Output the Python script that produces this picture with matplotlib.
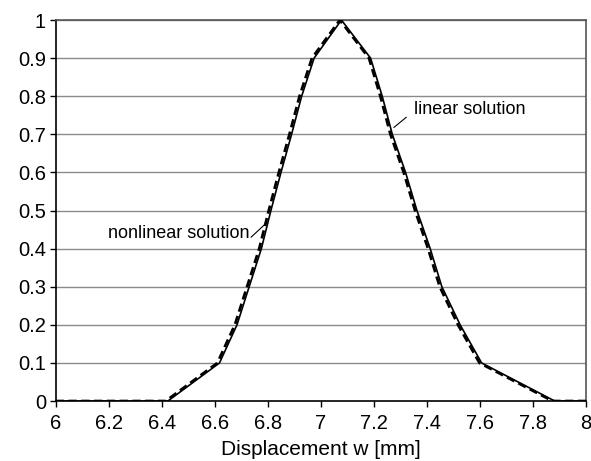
import matplotlib
matplotlib.use("Agg")
import matplotlib.pyplot as plt

# linear solution (solid)
lin_x = [6.0, 6.423, 6.618, 6.684, 6.73, 6.776, 6.812, 6.85, 6.89, 6.928, 6.975, 7.078,
         7.188, 7.232, 7.27, 7.32, 7.363, 7.413, 7.457, 7.526, 7.607, 7.883, 8.0]
lin_y = [0.0, 0.0, 0.1, 0.2, 0.3, 0.4, 0.5, 0.6, 0.7, 0.8, 0.9, 1.0,
         0.9, 0.8, 0.7, 0.6, 0.5, 0.4, 0.3, 0.2, 0.1, 0.0, 0.0]

# nonlinear solution (dashed)
nl_x = [6.0, 6.415, 6.61, 6.676, 6.722, 6.768, 6.804, 6.842, 6.882, 6.92, 6.967, 7.072,
        7.182, 7.225, 7.263, 7.313, 7.356, 7.405, 7.449, 7.518, 7.599, 7.875, 8.0]
nl_y = lin_y

yticks = [0, 0.1, 0.2, 0.3, 0.4, 0.5, 0.6, 0.7, 0.8, 0.9, 1]
xticks = [6, 6.2, 6.4, 6.6, 6.8, 7, 7.2, 7.4, 7.6, 7.8, 8]

plt.rcParams["font.family"] = ["Liberation Sans", "DejaVu Sans"]

fig = plt.figure(figsize=(5.91, 4.61), dpi=100)
ax = fig.add_axes([0.0942, 0.130, 0.897, 0.8266])

for y in yticks[1:]:
    ax.axhline(y, color="#8a8a8a", linewidth=1.0, zorder=1)

ax.plot(nl_x, nl_y, color="black", linewidth=2.0, linestyle=(0, (3.0, 1.6)), zorder=3)
ax.plot(lin_x, lin_y, color="black", linewidth=1.2, zorder=4)

ax.set_xlim(6, 8)
ax.set_ylim(0, 1)
ax.set_xticks(xticks)
ax.set_xticklabels([f"{v:g}" for v in xticks])
ax.set_yticks(yticks)
ax.set_yticklabels([f"{v:g}" for v in yticks])
ax.tick_params(axis="both", labelsize=14.5, direction="out", length=4, width=1)
ax.tick_params(axis="x", pad=5)
ax.tick_params(axis="y", pad=3)
ax.set_xlabel("Displacement w [mm]", fontsize=15, labelpad=5)

for side in ("top", "right"):
    ax.spines[side].set_color("#555555")
for side in ("left", "bottom"):
    ax.spines[side].set_color("black")
for s in ax.spines.values():
    s.set_linewidth(1.2)

# labels with leader lines
ax.text(7.351, 0.764, "linear solution", fontsize=13, ha="left", va="center")
ax.annotate("", xy=(7.276, 0.718), xytext=(7.323, 0.745),
            arrowprops=dict(arrowstyle="-", color="black", lw=0.8, shrinkA=0, shrinkB=0))
ax.text(6.730, 0.441, "nonlinear solution", fontsize=13, ha="right", va="center")
ax.annotate("", xy=(6.793, 0.466), xytext=(6.737, 0.430),
            arrowprops=dict(arrowstyle="-", color="black", lw=0.8, shrinkA=0, shrinkB=0))

fig.savefig("out.png", dpi=100)
